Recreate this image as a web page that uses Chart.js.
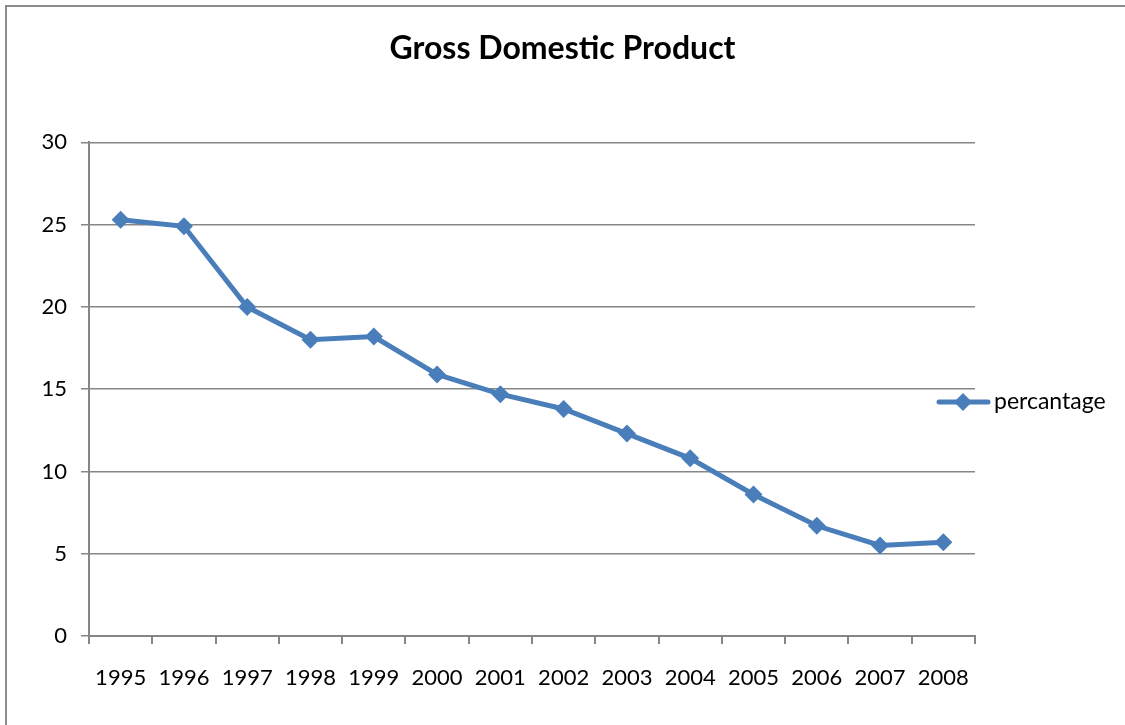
<!DOCTYPE html>
<html>
<head>
<meta charset="utf-8">
<script src="https://cdn.jsdelivr.net/npm/chart.js@4"></script>
<style>
  html, body { margin: 0; padding: 0; background: #fff; }
  #wrap { width: 1125px; height: 725px; }
</style>
</head>
<body>
<div id="wrap"><canvas id="gdpChart" width="1125" height="725"></canvas></div>
<script>
// Chart data
const years = ['1995', '1996', '1997', '1998', '1999', '2000', '2001', '2002', '2003', '2004', '2005', '2006', '2007', '2008'];
const percentage = [25.3, 24.9, 20.0, 18.0, 18.2, 15.9, 14.7, 13.8, 12.3, 10.8, 8.6, 6.7, 5.5, 5.7];
const seriesLabel = 'percantage';
const chartTitle = 'Gross Domestic Product';

const lineColor = '#4a7ebb';
const gridColor = '#868686';
const fontFamily = 'Lato, "Open Sans", sans-serif';

// Border round the chart and the legend at the right (line with a diamond)
const frameAndLegend = {
    id: 'frameAndLegend',
    afterDraw(chart) {
        const ctx = chart.ctx;
        ctx.save();
        ctx.strokeStyle = '#8c8c8c';
        ctx.lineWidth = 2;
        ctx.beginPath();
        ctx.moveTo(6, chart.height);
        ctx.lineTo(6, 6);
        ctx.lineTo(chart.width, 6);
        ctx.stroke();

        const ds = chart.data.datasets[0];
        const y = 402;
        ctx.strokeStyle = ds.borderColor;
        ctx.lineWidth = 5;
        ctx.lineCap = 'round';
        ctx.beginPath();
        ctx.moveTo(939, y);
        ctx.lineTo(988, y);
        ctx.stroke();
        ctx.fillStyle = ds.backgroundColor;
        ctx.beginPath();
        ctx.moveTo(963, y - 9);
        ctx.lineTo(972, y);
        ctx.lineTo(963, y + 9);
        ctx.lineTo(954, y);
        ctx.closePath();
        ctx.fill();

        ctx.fillStyle = '#000';
        ctx.font = '23px ' + fontFamily;
        ctx.textBaseline = 'middle';
        ctx.textAlign = 'left';
        ctx.fillText(ds.label, 994, y);
        ctx.restore();
    }
};

const ctx = document.getElementById('gdpChart').getContext('2d');
new Chart(ctx, {
    type: 'line',
    data: {
        labels: years,
        datasets: [{
            label: seriesLabel,
            data: percentage,
            borderColor: lineColor,
            backgroundColor: lineColor,
            borderWidth: 5,
            tension: 0,
            pointStyle: 'rectRot',
            pointRadius: 9,
            pointHoverRadius: 9,
            pointBorderWidth: 0,
            fill: false
        }]
    },
    options: {
        responsive: false,
        animation: false,
        layout: { padding: { left: 0, right: 0, top: 0, bottom: 0 } },
        plugins: {
            legend: { display: false },
            tooltip: { enabled: false },
            title: {
                display: true,
                text: chartTitle,
                color: '#000',
                font: { family: fontFamily, size: 32, weight: 'bold' },
                padding: { top: 29, bottom: 75 }
            }
        },
        scales: {
            x: {
                offset: true,
                grid: {
                    offset: true,
                    drawOnChartArea: false,
                    drawTicks: true,
                    tickLength: 8,
                    color: gridColor,
                    lineWidth: 2
                },
                border: { color: gridColor, width: 2 },
                ticks: {
                    color: '#000',
                    font: { family: fontFamily, size: 22 },
                    padding: 21,
                    maxRotation: 0,
                    autoSkip: false
                },
                afterFit(scale) { scale.height = 725 - 636; }
            },
            y: {
                min: 0,
                max: 30,
                ticks: {
                    stepSize: 5,
                    color: '#000',
                    font: { family: fontFamily, size: 22 },
                    padding: 14
                },
                grid: {
                    color: gridColor,
                    lineWidth: 1.5,
                    tickLength: 8
                },
                border: { color: gridColor, width: 2 },
                afterFit(scale) { scale.width = 89; }
            },
            yRight: {
                position: 'right',
                display: true,
                grid: { display: false },
                border: { display: false },
                ticks: { display: false },
                afterFit(scale) { scale.width = 1125 - 975; }
            }
        }
    },
    plugins: [frameAndLegend]
});
</script>
</body>
</html>
